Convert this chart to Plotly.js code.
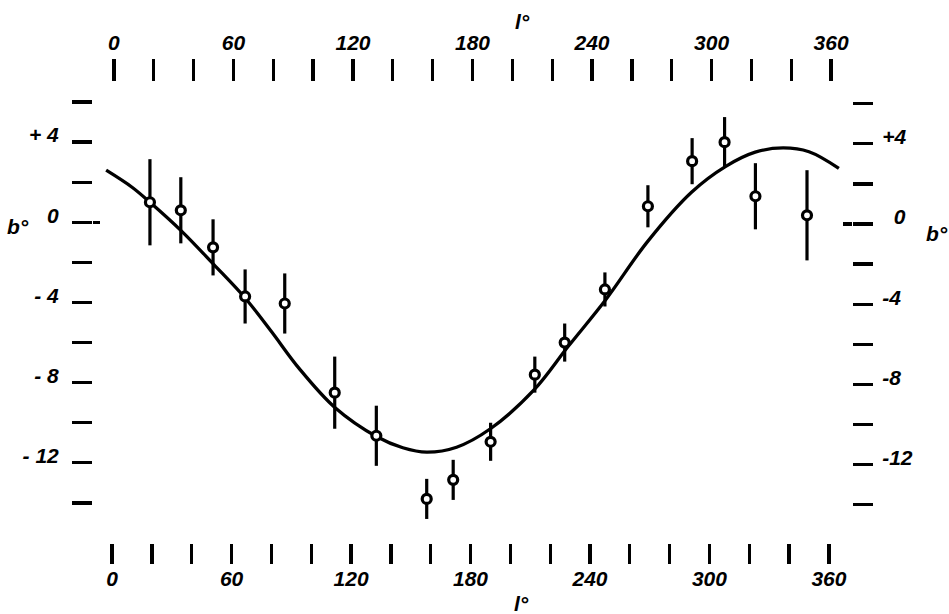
<!DOCTYPE html>
<html>
<head>
<meta charset="utf-8">
<script src="https://cdn.plot.ly/plotly-3.0.1.min.js"></script>
<style>
  html, body { margin: 0; padding: 0; background: #fff; }
  #chart { width: 949px; height: 614px; }
</style>
</head>
<body>
<div id="chart"></div>
<script>
// Observed centres: galactic longitude l (deg), latitude b (deg) and the error on b
const longitude = [19, 34.5, 50.7, 66.8, 86.7, 111.8, 132.7, 158, 171.3, 190.1, 212.3, 227.3, 247.5, 269.1, 291.3, 307.6, 323.1, 349];
const latitude = [1.0, 0.6, -1.25, -3.7, -4.05, -8.5, -10.65, -13.8, -12.85, -10.95, -7.6, -6.0, -3.35, 0.8, 3.05, 4.0, 1.3, 0.35];
const latitudeErr = [2.15, 1.65, 1.4, 1.35, 1.5, 1.8, 1.5, 1.0, 1.0, 0.95, 0.9, 0.95, 0.85, 1.05, 1.15, 1.25, 1.65, 2.25];

// Smooth curve through the points
const curveL = [-3, 10, 19, 35, 51, 67, 80, 94, 112, 133, 146, 158, 173, 190, 212, 229, 248, 269, 291, 308, 323, 337, 350, 365];
const curveB = [2.6, 1.75, 1.0, -0.45, -2.1, -3.8, -5.45, -7.3, -9.25, -10.7, -11.25, -11.47, -11.22, -10.3, -8.35, -6.2, -3.85, -0.95, 1.5, 2.78, 3.5, 3.71, 3.52, 2.69];

// Tick marks and their labels
const lTicks = [0, 20, 40, 60, 80, 100, 120, 140, 160, 180, 200, 220, 240, 260, 280, 300, 320, 340, 360];
const lTickText = ['0', '', '', '60', '', '', '120', '', '', '180', '', '', '240', '', '', '300', '', '', '360'];
const bTicks = [-14, -12, -10, -8, -6, -4, -2, 0, 2, 4, 6];
const bTickTextLeft = ['', '- 12', '', '- 8', '', '- 4', '', '0', '', '+ 4', ''];
const bTickTextRight = ['', '-12', '', '-8', '', '-4', '', '\u00a0\u00a00', '', '+4', ''];

const ink = '#000';
const font = { family: 'Liberation Sans, Arial, sans-serif', size: 21, color: ink, style: 'italic', weight: 'bold' };

const curve = {
  x: curveL, y: curveB,
  type: 'scatter', mode: 'lines',
  line: { color: ink, width: 3.3, shape: 'spline', smoothing: 1 },
  hoverinfo: 'skip'
};

const points = {
  x: longitude, y: latitude,
  type: 'scatter', mode: 'markers',
  marker: { symbol: 'circle', size: 9, color: '#fff', line: { color: ink, width: 3.2 } },
  error_y: { type: 'data', array: latitudeErr, visible: true, color: ink, thickness: 3.2, width: 0 },
  cliponaxis: false
};

// Invisible copies of the curve so the mirrored tick axes get drawn
const ghost = (xa, ya) => ({
  x: curveL, y: curveB, xaxis: xa, yaxis: ya,
  type: 'scatter', mode: 'lines', opacity: 0,
  line: { width: 0 }, hoverinfo: 'skip'
});

const lAxis = {
  tickmode: 'array', tickvals: lTicks, ticktext: lTickText,
  ticks: 'outside', ticklen: 20, tickwidth: 3.3, tickcolor: ink,
  showline: false, showgrid: false, zeroline: false,
  tickfont: font, fixedrange: true
};

const bAxis = {
  tickmode: 'array', tickvals: bTicks,
  ticks: 'outside', ticklen: 20, tickwidth: 3.3, tickcolor: ink,
  showline: false, showgrid: false, zeroline: false,
  tickfont: font, ticklabelshift: -7, fixedrange: true
};

const zeroMark = {
  tickmode: 'array', tickvals: [0], ticks: 'inside', tickwidth: 3.3, tickcolor: ink,
  showticklabels: false, showline: false, showgrid: false, zeroline: false, fixedrange: true
};

const label = (text, x, y) => ({
  text: text, x: x, y: y, xref: 'paper', yref: 'paper',
  showarrow: false, font: font, xanchor: 'center', yanchor: 'middle'
});

const layout = {
  width: 949, height: 614,
  margin: { l: 93, r: 97, t: 82, b: 71, pad: 0 },
  paper_bgcolor: '#fff', plot_bgcolor: '#fff',
  showlegend: false,
  xaxis: Object.assign({}, lAxis, { range: [-9.6, 371.6], side: 'bottom', anchor: 'y', ticklabelstandoff: -3 }),
  xaxis2: Object.assign({}, lAxis, { range: [-10.5, 370.5], side: 'top', overlaying: 'x', anchor: 'y', ticklen: 22, ticklabelstandoff: 1 }),
  yaxis: Object.assign({}, bAxis, { range: [-16, 7], side: 'left', anchor: 'x', ticktext: bTickTextLeft, ticklabelstandoff: 9 }),
  yaxis2: Object.assign({}, bAxis, { range: [-15.91, 7.08], side: 'right', overlaying: 'y', anchor: 'x', ticktext: bTickTextRight, ticklabelstandoff: 5 }),
  yaxis3: Object.assign({}, zeroMark, { range: [-16, 7], side: 'left', overlaying: 'y', anchor: 'x', ticklen: 7 }),
  yaxis4: Object.assign({}, zeroMark, { range: [-15.91, 7.08], side: 'right', overlaying: 'y', anchor: 'x', ticklen: 9 }),
  annotations: [
    label('b°', -0.099, 0.686),
    label('b°', 1.112, 0.672),
    label('l°', 0.566, 1.132),
    label('l°', 0.565, -0.132)
  ]
};

const traces = [ghost('x2', 'y'), ghost('x', 'y2'), ghost('x', 'y3'), ghost('x', 'y4'), curve, points];
Plotly.newPlot('chart', traces, layout, { staticPlot: true, displayModeBar: false });
</script>
</body>
</html>
